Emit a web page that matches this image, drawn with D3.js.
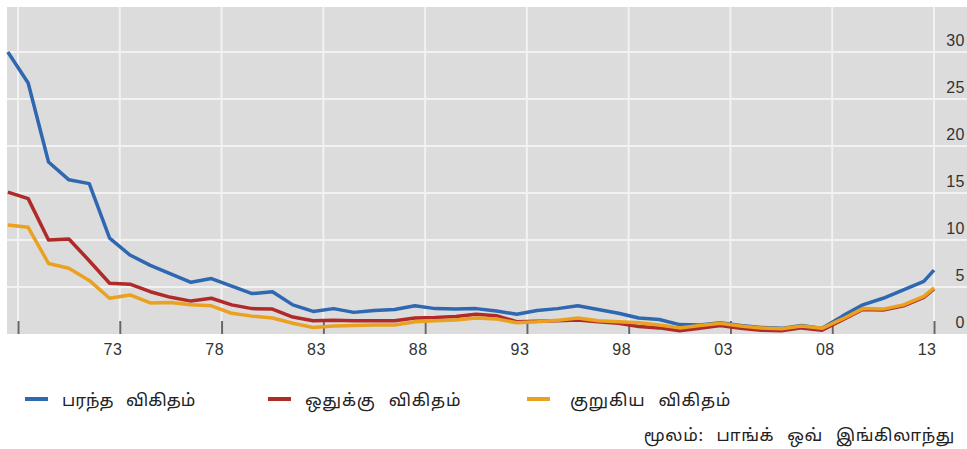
<!DOCTYPE html>
<html><head><meta charset="utf-8">
<script src="https://cdn.jsdelivr.net/npm/d3@7"></script>
<style>
body{margin:0;background:#fff;}
svg{display:block;}
text{font-family:"Noto Sans Tamil","Latha","Noto Sans",sans-serif;}
text.num{font-family:"Liberation Sans",Arial,sans-serif;}
</style></head>
<body><svg id="c" width="967" height="449"></svg>
<script>
const years = [1967.5,1968.5,1969.5,1970.5,1971.5,1972.5,1973.5,1974.5,1975.5,1976.5,1977.5,1978.5,1979.5,1980.5,1981.5,1982.5,1983.5,1984.5,1985.5,1986.5,1987.5,1988.5,1989.5,1990.5,1991.5,1992.5,1993.5,1994.5,1995.5,1996.5,1997.5,1998.5,1999.5,2000.5,2001.5,2002.5,2003.5,2004.5,2005.5,2006.5,2007.5,2008.5,2009.5,2010.5,2011.5,2012.5,2013.0];
const broad = [30.0,26.7,18.3,16.4,16.0,10.2,8.4,7.3,6.4,5.5,5.9,5.1,4.3,4.5,3.1,2.4,2.7,2.3,2.5,2.6,3.0,2.7,2.65,2.7,2.45,2.1,2.5,2.7,3.0,2.6,2.2,1.7,1.55,1.0,0.95,1.2,0.9,0.7,0.6,0.9,0.6,1.9,3.1,3.8,4.7,5.6,6.8];
const ratio = [15.1,14.4,10.0,10.1,7.8,5.4,5.3,4.5,3.9,3.5,3.8,3.1,2.7,2.65,1.8,1.4,1.45,1.4,1.4,1.4,1.7,1.75,1.85,2.1,1.95,1.3,1.35,1.4,1.5,1.3,1.15,0.8,0.65,0.35,0.6,0.9,0.6,0.4,0.35,0.65,0.4,1.5,2.6,2.55,3.0,3.9,4.8];
const narrow = [11.6,11.35,7.5,7.0,5.7,3.8,4.15,3.3,3.35,3.1,3.0,2.2,1.9,1.7,1.15,0.7,0.85,0.9,0.95,0.95,1.3,1.4,1.5,1.7,1.6,1.2,1.3,1.45,1.7,1.4,1.3,1.2,0.95,0.65,0.9,1.15,0.85,0.65,0.55,0.85,0.6,1.6,2.7,2.65,3.1,4.0,4.9];
const seriesNames = ["பரந்த விகிதம்","ஒதுக்கு விகிதம்","குறுகிய விகிதம்"];
const seriesColors = ["#2f67b1","#b02a2a","#eaa11f"];
const xTicks = [1968,1973,1978,1983,1988,1993,1998,2003,2008,2013];
const xTickLabels = ["","73","78","83","88","93","98","03","08","13"];
const yTicks = [0,5,10,15,20,25,30];
const sourceText = "மூலம்: பாங்க் ஒவ் இங்கிலாந்து";

const svg = d3.select("#c");
const x = d3.scaleLinear().domain([1968,2013]).range([18,934]);
const y = d3.scaleLinear().domain([0,30]).range([334,52]);
const plot = {left:7, top:7, right:967, bottom:334};

svg.append("rect").attr("x",plot.left).attr("y",plot.top)
  .attr("width",plot.right-plot.left).attr("height",plot.bottom-plot.top).attr("fill","#dcdcdc");

// grid
svg.append("g").selectAll("line").data(yTicks.filter(d=>d>0)).join("line")
  .attr("x1",plot.left).attr("x2",plot.right).attr("y1",d=>y(d)).attr("y2",d=>y(d))
  .attr("stroke","#f2f2f2").attr("stroke-width",2);
svg.append("g").selectAll("line").data(xTicks).join("line")
  .attr("x1",d=>x(d)).attr("x2",d=>x(d)).attr("y1",plot.top).attr("y2",plot.bottom)
  .attr("stroke","#f2f2f2").attr("stroke-width",2);

// x axis ticks
const xAxis = d3.axisBottom(x).tickValues(xTicks).tickSize(13).tickFormat((d,i)=>xTickLabels[i]);
const gx = svg.append("g").attr("transform",`translate(0,${plot.bottom-13})`).call(xAxis);
gx.select(".domain").remove();
gx.selectAll(".tick line").attr("stroke","#666").attr("stroke-width",2);
gx.selectAll(".tick text").attr("class","num").attr("fill","#333").attr("font-size",16)
  .attr("text-anchor","end").attr("dx",2).attr("y",23).attr("dy","0.71em").attr("letter-spacing",0.5);

// y axis labels
const yAxis = d3.axisRight(y).tickValues(yTicks).tickSize(0);
const gy = svg.append("g").attr("transform","translate(965,0)").call(yAxis);
gy.select(".domain").remove();
gy.selectAll(".tick text").attr("class","num").attr("fill","#333").attr("font-size",16)
  .attr("text-anchor","end").attr("x",0).attr("dy","-0.4em").attr("letter-spacing",0.5);

// lines
const data = [broad, ratio, narrow];
const line = d3.line().x((d,i)=>x(years[i])).y(d=>y(d));
svg.append("g").selectAll("path").data(data).join("path")
  .attr("d",line).attr("fill","none")
  .attr("stroke",(d,i)=>seriesColors[i]).attr("stroke-width",3.5)
  .attr("stroke-linejoin","round");

// legend
const legX = [25,268,527];
const lg = svg.append("g").selectAll("g").data(seriesNames).join("g")
  .attr("transform",(d,i)=>`translate(${legX[i]},399)`);
lg.append("line").attr("x1",0).attr("x2",23).attr("y1",0).attr("y2",0)
  .attr("stroke",(d,i)=>seriesColors[i]).attr("stroke-width",4);
lg.append("text").attr("x",(d,i)=>i===2?43:37).attr("y",7).attr("font-size",17).attr("fill","#222")
  .attr("word-spacing",8).attr("letter-spacing",(d,i)=>i===0?0:0.8).text(d=>d);

svg.append("text").attr("x",955).attr("y",441).attr("text-anchor","end")
  .attr("font-size",17).attr("fill","#222").attr("word-spacing",8).attr("letter-spacing",0.6).text(sourceText);
</script></body></html>
